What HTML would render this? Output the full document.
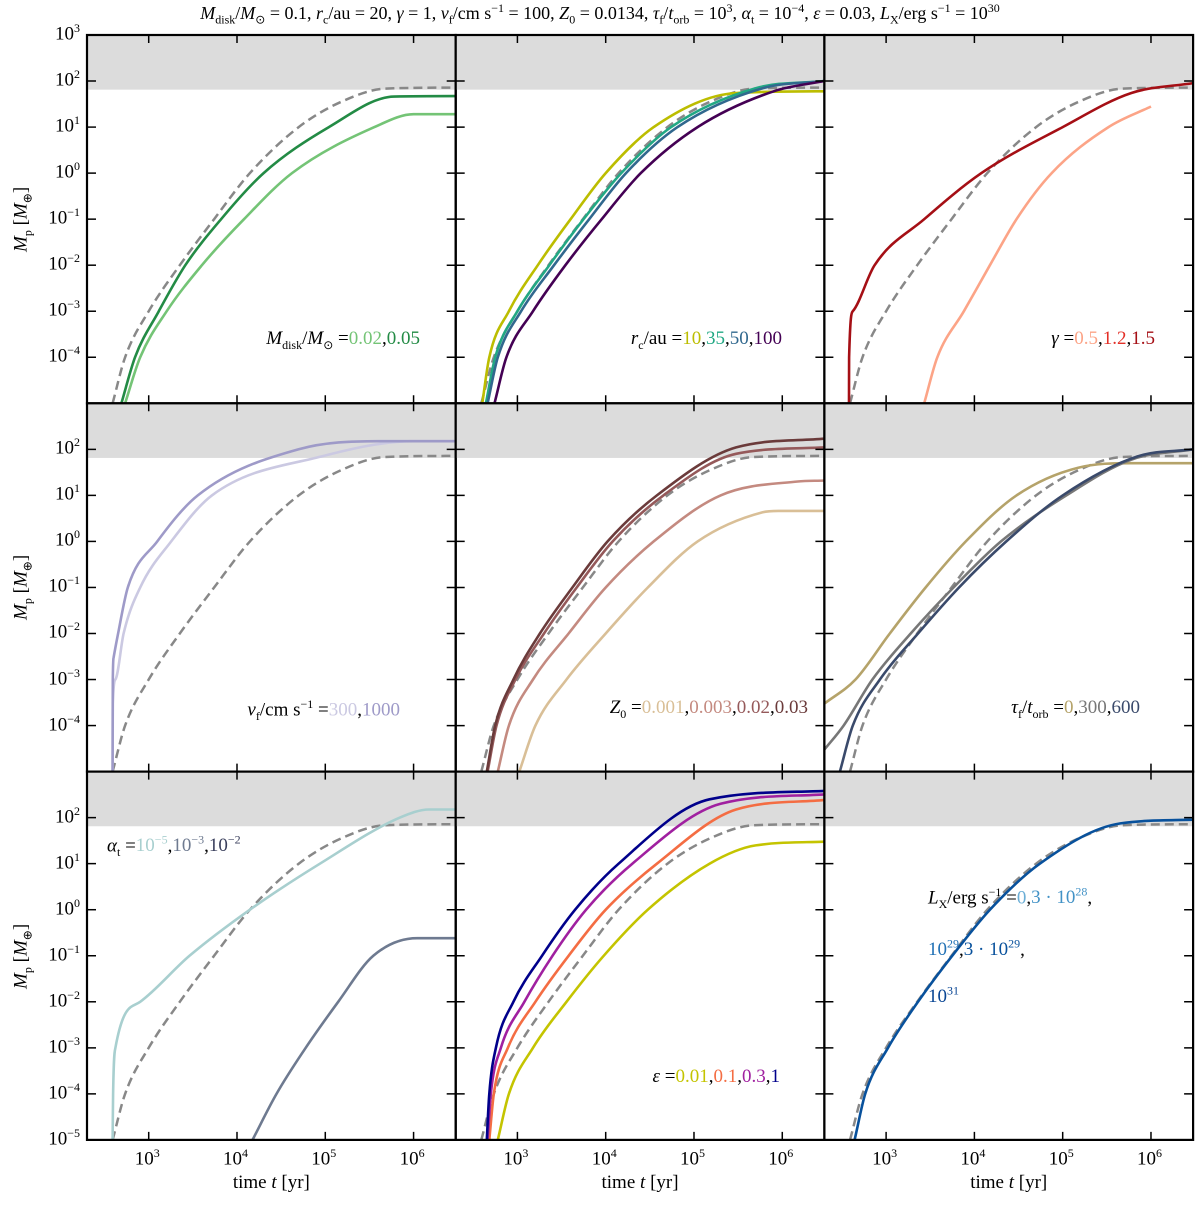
<!DOCTYPE html>
<html><head><meta charset="utf-8">
<style>
body{margin:0;background:#fff;}
#wrap{position:relative;width:1200px;height:1205px;font-family:"Liberation Serif",serif;color:#000;overflow:hidden;}
.lbl{position:absolute;font-size:19px;white-space:nowrap;}
.lbl sub,.lbl sup{font-size:12px;}
.tk{position:absolute;font-size:19px;}
.tk sup{font-size:12px;}
</style></head><body>
<div id="wrap">
<svg id="svg" width="1200" height="1205" xmlns="http://www.w3.org/2000/svg"></svg>
<div class="lbl" style="left:0;width:1200px;text-align:center;top:1px;font-size:18px;"><i>M</i><sub>disk</sub>/<i>M</i><sub>⊙</sub> = 0.1, <i>r</i><sub>c</sub>/au = 20, <i>γ</i> = 1, <i>v</i><sub>f</sub>/cm s<sup>−1</sup> = 100, <i>Z</i><sub>0</sub> = 0.0134, <i>τ</i><sub>f</sub>/<i>t</i><sub>orb</sub> = 10<sup>3</sup>, <i>α</i><sub>t</sub> = 10<sup>−4</sup>, <i>ε</i> = 0.03, <i>L</i><sub>X</sub>/erg s<sup>−1</sup> = 10<sup>30</sup></div>

<div class="lbl" style="right:780px;top:328px;"><i>M</i><sub>disk</sub>/<i>M</i><sub>⊙</sub> =<span style="color:#74c476">0.02</span>,<span style="color:#238b45">0.05</span></div>
<div class="lbl" style="right:418px;top:328px;"><i>r</i><sub>c</sub>/au =<span style="color:#bcbd00">10</span>,<span style="color:#22a884">35</span>,<span style="color:#31688e">50</span>,<span style="color:#440154">100</span></div>
<div class="lbl" style="right:45px;top:328px;"><i>γ</i> =<span style="color:#fca487">0.5</span>,<span style="color:#e32f27">1.2</span>,<span style="color:#a50f15">1.5</span></div>
<div class="lbl" style="right:800px;top:697px;"><i>v</i><sub>f</sub>/cm s<sup>−1</sup> =<span style="color:#cbc9e2">300</span>,<span style="color:#9e9ac8">1000</span></div>
<div class="lbl" style="right:392px;top:697px;"><i>Z</i><sub>0</sub> =<span style="color:#d9bf97">0.001</span>,<span style="color:#c48a80">0.003</span>,<span style="color:#95595a">0.02</span>,<span style="color:#6b3b3b">0.03</span></div>
<div class="lbl" style="right:60px;top:697px;"><i>τ</i><sub>f</sub>/<i>t</i><sub>orb</sub> =<span style="color:#b5a36a">0</span>,<span style="color:#777">300</span>,<span style="color:#3a4a6b">600</span></div>
<div class="lbl" style="left:107px;top:833px;"><i>α</i><sub>t</sub> =<span style="color:#a8cfcf">10<sup>−5</sup></span>,<span style="color:#6e7a90">10<sup>−3</sup></span>,<span style="color:#3a3f5c">10<sup>−2</sup></span></div>
<div class="lbl" style="right:420px;top:1066px;"><i>ε</i> =<span style="color:#c4c400">0.01</span>,<span style="color:#f46d43">0.1</span>,<span style="color:#a020a0">0.3</span>,<span style="color:#00008b">1</span></div>
<div class="lbl" style="left:928px;top:872px;line-height:40px;"><i>L</i><sub>X</sub>/erg s<sup>−1</sup> =<span style="color:#6baed6">0</span>,<span style="color:#4292c6">3 · 10<sup>28</sup></span>,<br><span style="color:#2171b5">10<sup>29</sup></span>,<span style="color:#08519c">3 · 10<sup>29</sup></span>,<br><span style="color:#084594">10<sup>31</sup></span></div>
</div>
<script>
// shared reference (dashed)
const refT = [390, 540, 1000, 2250, 5500, 14000, 50000, 150000, 470000, 3e6];
const refM = [1e-5, 1e-4, 1e-3, 1e-2, 1e-1, 1, 10, 35, 68, 72];
// panel 1: Mdisk
const mdisk002T = [540, 800, 1600, 4000, 12000, 42000, 360000, 1000000, 3e6];
const mdisk002M = [1e-5, 1e-4, 1e-3, 1e-2, 1e-1, 1, 10, 19, 19];
const mdisk005T = [490, 700, 1300, 2600, 6600, 20000, 110000, 600000, 3e6];
const mdisk005M = [1e-5, 1e-4, 1e-3, 1e-2, 1e-1, 1, 10, 46, 47];
// panel 2: rc
const rc10T = [400, 480, 800, 1700, 4000, 10000, 35000, 300000, 3e6];
const rc10M = [1e-5, 1e-4, 1e-3, 1e-2, 1e-1, 1, 10, 55, 60];
const rc35T = [440, 560, 1000, 2300, 5600, 15000, 55000, 500000, 3e6];
const rc35M = [1e-5, 1e-4, 1e-3, 1e-2, 1e-1, 1, 10, 70, 100];
const rc50T = [460, 600, 1100, 2600, 6500, 17000, 65000, 600000, 3e6];
const rc50M = [1e-5, 1e-4, 1e-3, 1e-2, 1e-1, 1, 10, 70, 100];
const rc100T = [550, 750, 1500, 3500, 9000, 25000, 110000, 800000, 3e6];
const rc100M = [1e-5, 1e-4, 1e-3, 1e-2, 1e-1, 1, 10, 60, 100];
// panel 3: gamma
const g05T = [2700, 3800, 7600, 15000, 30000, 75000, 330000, 1000000];
const g05M = [1e-5, 1e-4, 1e-3, 1e-2, 1e-1, 1, 10, 28];
const g15T = [380, 381, 420, 740, 2700, 12000, 100000, 600000, 3e6];
const g15M = [1e-5, 1e-4, 1e-3, 1e-2, 1e-1, 1, 10, 55, 90];
// panel 4: vf
const vf300T = [390, 392, 420, 520, 800, 1800, 5200, 90000, 1000000, 3e6];
const vf300M = [1e-5, 3e-4, 1e-3, 1e-2, 1e-1, 1, 10, 70, 150, 150];
const vf1000T = [390, 392, 400, 450, 580, 1250, 3600, 50000, 400000, 3e6];
const vf1000M = [1e-5, 1e-3, 3e-3, 1e-2, 1e-1, 1, 10, 100, 150, 150];
// panel 5: Z0
const z001T = [1050, 1600, 3600, 10000, 30000, 110000, 600000, 900000, 3e6];
const z001M = [1e-5, 1e-4, 1e-3, 1e-2, 1e-1, 1, 4.3, 4.6, 4.6];
const z003T = [600, 800, 1500, 3800, 10000, 35000, 200000, 1500000, 3e6];
const z003M = [1e-5, 1e-4, 1e-3, 1e-2, 1e-1, 1, 10, 20, 21];
const z02T = [460, 580, 950, 2000, 4700, 12000, 45000, 300000, 3e6];
const z02M = [1e-5, 1e-4, 1e-3, 1e-2, 1e-1, 1, 10, 80, 110];
const z03T = [450, 560, 900, 1800, 4200, 10500, 38000, 300000, 3e6];
const z03M = [1e-5, 1e-4, 1e-3, 1e-2, 1e-1, 1, 10, 110, 170];
// panel 6: tau_f
const tau0T = [200, 450, 1100, 2800, 8000, 30000, 150000, 600000, 3e6];
const tau0M = [3e-4, 1e-3, 1e-2, 1e-1, 1, 10, 40, 50, 50];
const tau300T = [200, 330, 700, 1900, 5800, 20000, 110000, 600000, 3e6];
const tau300M = [3e-5, 1e-4, 1e-3, 1e-2, 1e-1, 1, 10, 60, 100];
const tau600T = [300, 420, 850, 2300, 6700, 23000, 100000, 700000, 3e6];
const tau600M = [1e-5, 1e-4, 1e-3, 1e-2, 1e-1, 1, 10, 70, 100];
// panel 7: alpha
const a5T = [390, 395, 420, 800, 2900, 14000, 87000, 700000, 1500000, 3e6];
const a5M = [1e-5, 1e-4, 1e-3, 1e-2, 1e-1, 1, 10, 100, 150, 150];
const a3T = [15000, 28000, 60000, 140000, 350000, 1100000, 3e6];
const a3M = [1e-5, 1e-4, 1e-3, 1e-2, 1e-1, 0.24, 0.24];
// panel 8: epsilon
const e001T = [600, 800, 1500, 3600, 9500, 30000, 150000, 500000, 3e6];
const e001M = [1e-5, 1e-4, 1e-3, 1e-2, 1e-1, 1, 10, 25, 30];
const e01T = [480, 540, 780, 1600, 3800, 10000, 38000, 300000, 3e6];
const e01M = [1e-5, 1e-4, 1e-3, 1e-2, 1e-1, 1, 10, 150, 240];
const e03T = [460, 500, 650, 1200, 2500, 6000, 20000, 200000, 3e6];
const e03M = [1e-5, 1e-4, 1e-3, 1e-2, 1e-1, 1, 10, 200, 320];
const e1T = [450, 480, 570, 900, 1900, 4500, 14000, 150000, 3e6];
const e1M = [1e-5, 1e-4, 1e-3, 1e-2, 1e-1, 1, 10, 250, 380];
// panel 9: Lx
const lxT = [440, 580, 1050, 2300, 5600, 15000, 55000, 450000, 3e6];
const lxM = [1e-5, 1e-4, 1e-3, 1e-2, 1e-1, 1, 10, 75, 90];

const xTickVals = [1e3, 1e4, 1e5, 1e6];
const xTickLabels = ['3', '4', '5', '6'];
const yTickVals = [1e3, 1e2, 1e1, 1, 1e-1, 1e-2, 1e-3, 1e-4, 1e-5];
const yTickLabels = ['3', '2', '1', '0', '−1', '−2', '−3', '−4', '−5'];

const NS = 'http://www.w3.org/2000/svg';
const svg = document.getElementById('svg');
const wrap = document.getElementById('wrap');
const L0 = 87, T0 = 35, PW = 368.7, PH = 368.3;
const TMIN = 200, TMAX = 3e6, YMAX = 3, YMIN = -5;
function xs(c, t) { return L0 + c * PW + (Math.log10(t) - Math.log10(TMIN)) / (Math.log10(TMAX) - Math.log10(TMIN)) * PW; }
function ys(r, m) { return T0 + r * PH + (YMAX - Math.log10(m)) / (YMAX - YMIN) * PH; }
function mk(tag, attrs) { const e = document.createElementNS(NS, tag); for (const k in attrs) e.setAttribute(k, attrs[k]); return e; }
// monotone cubic (Fritsch-Carlson) through pixel points
function smooth(P) {
  const n = P.length;
  const h = [], d = [];
  for (let i = 0; i < n - 1; i++) { h.push(Math.max(P[i + 1][0] - P[i][0], 1e-6)); d.push((P[i + 1][1] - P[i][1]) / h[i]); }
  const m = new Array(n);
  m[0] = d[0]; m[n - 1] = d[n - 2];
  for (let i = 1; i < n - 1; i++) m[i] = (d[i - 1] * d[i] <= 0) ? 0 : (d[i - 1] + d[i]) / 2;
  for (let i = 0; i < n - 1; i++) {
    if (d[i] === 0) { m[i] = 0; m[i + 1] = 0; continue; }
    const a = m[i] / d[i], b = m[i + 1] / d[i], s = a * a + b * b;
    if (s > 9) { const t = 3 / Math.sqrt(s); m[i] = t * a * d[i]; m[i + 1] = t * b * d[i]; }
  }
  let path = 'M' + P[0][0].toFixed(1) + ',' + P[0][1].toFixed(1);
  for (let i = 0; i < n - 1; i++) {
    const hh = h[i] / 3;
    path += 'C' + (P[i][0] + hh).toFixed(1) + ',' + (P[i][1] + m[i] * hh).toFixed(1) + ' ' + (P[i + 1][0] - hh).toFixed(1) + ',' + (P[i + 1][1] - m[i + 1] * hh).toFixed(1) + ' ' + P[i + 1][0].toFixed(1) + ',' + P[i + 1][1].toFixed(1);
  }
  return path;
}
function curve(c, r, T, M) { return smooth(T.map((t, i) => [xs(c, t), ys(r, M[i])])); }

const panels = [
 {r:0,c:0,name:'mdisk',s:[[mdisk002T,mdisk002M,'#74c476'],[mdisk005T,mdisk005M,'#238b45']]},
 {r:0,c:1,name:'rc',s:[[rc10T,rc10M,'#bcbd00'],[rc35T,rc35M,'#22a884'],[rc50T,rc50M,'#31688e'],[rc100T,rc100M,'#440154']]},
 {r:0,c:2,name:'gamma',s:[[g05T,g05M,'#fca487'],[g15T,g15M,'#a50f15']]},
 {r:1,c:0,name:'vf',s:[[vf300T,vf300M,'#cbc9e2'],[vf1000T,vf1000M,'#9e9ac8']]},
 {r:1,c:1,name:'z0',s:[[z001T,z001M,'#d9bf97'],[z003T,z003M,'#c48a80'],[z02T,z02M,'#95595a'],[z03T,z03M,'#6b3b3b']]},
 {r:1,c:2,name:'tauf',s:[[tau0T,tau0M,'#b5a36a'],[tau300T,tau300M,'#777777'],[tau600T,tau600M,'#3a4a6b']]},
 {r:2,c:0,name:'alpha',s:[[a5T,a5M,'#a8cfcf'],[a3T,a3M,'#6e7a90']]},
 {r:2,c:1,name:'epsilon',s:[[e001T,e001M,'#c4c400'],[e01T,e01M,'#f46d43'],[e03T,e03M,'#a020a0'],[e1T,e1M,'#00008b']]},
 {r:2,c:2,name:'lx',s:[[lxT,lxM,'#08519c']]}
];

const defs = mk('defs', {});
svg.appendChild(defs);
panels.forEach((p, i) => {
  const x0 = L0 + p.c * PW, y0 = T0 + p.r * PH;
  const cp = mk('clipPath', {id: 'cp' + i});
  cp.appendChild(mk('rect', {x: x0, y: y0, width: PW, height: PH}));
  defs.appendChild(cp);
  const g = mk('g', {'clip-path': 'url(#cp' + i + ')'});
  
  
  svg.appendChild(g);
  const band = mk('rect', {x: x0, y: y0, width: PW, height: ys(p.r, 65) - y0, fill: '#dcdcdc'});
  
  
  g.appendChild(band);
  const ref = mk('path', {d: curve(p.c, p.r, refT, refM), fill: 'none', stroke: '#888', 'stroke-width': 2.5, 'stroke-dasharray': '9,5'});
  
  
  g.appendChild(ref);
  p.s.forEach((s, j) => {
    const path = mk('path', {d: curve(p.c, p.r, s[0], s[1]), fill: 'none', stroke: s[2], 'stroke-width': 2.6, 'stroke-linejoin': 'round'});
    
    
    g.appendChild(path);
  });
  xTickVals.forEach(t => {
    const x = xs(p.c, t);
    g.appendChild(mk('line', {x1: x, x2: x, y1: y0 + PH, y2: y0 + PH - 8, stroke: '#000', 'stroke-width': 1.5}));
    g.appendChild(mk('line', {x1: x, x2: x, y1: y0, y2: y0 + 8, stroke: '#000', 'stroke-width': 1.5}));
  });
  yTickVals.forEach(m => {
    const y = ys(p.r, m);
    g.appendChild(mk('line', {x1: x0, x2: x0 + 9, y1: y, y2: y, stroke: '#000', 'stroke-width': 1.5}));
    g.appendChild(mk('line', {x1: x0 + PW - 9, x2: x0 + PW, y1: y, y2: y, stroke: '#000', 'stroke-width': 1.5}));
  });
  const border = mk('rect', {x: x0, y: y0, width: PW, height: PH, fill: 'none', stroke: '#000', 'stroke-width': 2.2});
  
  
  svg.appendChild(border);
});

for (let r = 0; r < 3; r++) {
  yTickVals.forEach((m, k) => {
    if (r > 0 && k === 0) return;
    if (r < 2 && k === 8) return;
    const d = document.createElement('div');
    d.className = 'tk';
    
    
    d.style.right = (1200 - 80) + 'px';
    d.style.top = (ys(r, m) - 14) + 'px';
    d.innerHTML = '10<sup>' + yTickLabels[k] + '</sup>';
    wrap.appendChild(d);
  });
  const yt = document.createElement('div');
  yt.className = 'lbl';
  
  
  yt.style.left = '-32px';
  yt.style.width = '110px';
  yt.style.textAlign = 'center';
  yt.style.top = (T0 + r * PH + PH / 2 - 12) + 'px';
  yt.style.transform = 'rotate(-90deg)';
  yt.innerHTML = '<i>M</i><sub>p</sub> [<i>M</i><sub>⊕</sub>]';
  wrap.appendChild(yt);
}
for (let c = 0; c < 3; c++) {
  xTickVals.forEach((t, k) => {
    const d = document.createElement('div');
    d.className = 'tk';
    
    
    d.style.left = (xs(c, t) - 14) + 'px';
    d.style.top = '1146px';
    d.innerHTML = '10<sup>' + xTickLabels[k] + '</sup>';
    wrap.appendChild(d);
  });
  const xt = document.createElement('div');
  xt.className = 'lbl';
  
  
  xt.style.left = (L0 + c * PW) + 'px';
  xt.style.width = PW + 'px';
  xt.style.textAlign = 'center';
  xt.style.top = '1172px';
  xt.innerHTML = 'time <i>t</i> [yr]';
  wrap.appendChild(xt);
}
</script>
</body></html>
